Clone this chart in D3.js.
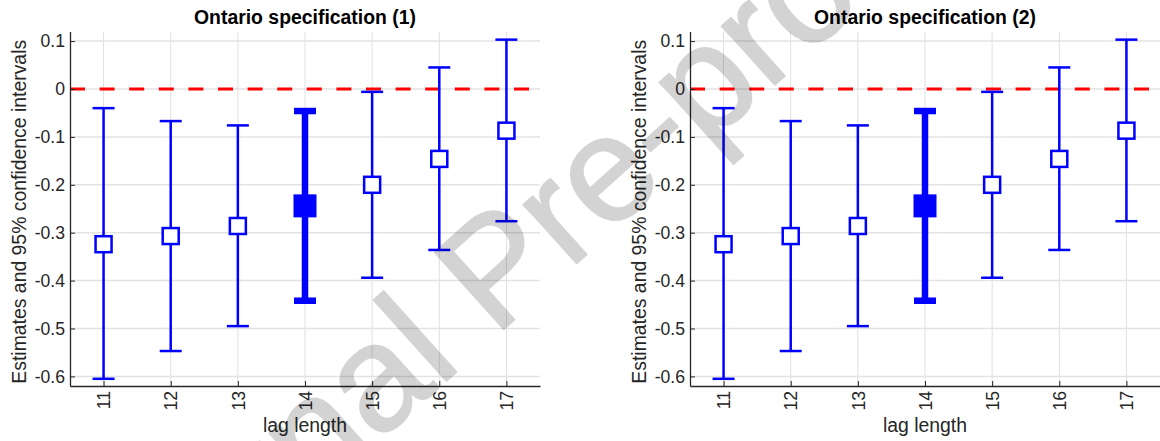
<!DOCTYPE html>
<html>
<head>
<meta charset="utf-8">
<script src="https://cdn.jsdelivr.net/npm/d3@7"></script>
<style>
  body { margin: 0; background: #fff; }
  svg { display: block; font-family: "Liberation Sans", Arial, sans-serif; }
</style>
</head>
<body>
<svg id="fig" width="1160" height="441"></svg>
<script>
// lag lengths on the x axis
var lags = [11, 12, 13, 14, 15, 16, 17];
var highlightLag = 14;

// Ontario specification (1)
var est1 = [-0.324, -0.307, -0.286, -0.244, -0.200, -0.146, -0.087];
var lo1  = [-0.605, -0.547, -0.495, -0.442, -0.394, -0.336, -0.276];
var hi1  = [-0.040, -0.067, -0.076, -0.046, -0.006,  0.045,  0.103];

// Ontario specification (2)
var est2 = [-0.324, -0.307, -0.286, -0.244, -0.200, -0.146, -0.087];
var lo2  = [-0.605, -0.547, -0.495, -0.442, -0.394, -0.336, -0.276];
var hi2  = [-0.040, -0.067, -0.076, -0.046, -0.006,  0.045,  0.103];

var yTicks = [0.1, 0, -0.1, -0.2, -0.3, -0.4, -0.5, -0.6];
var titles = ["Ontario specification (1)", "Ontario specification (2)"];

var axisColor = "#262626";
var blue = "#0000ff";

var fig = d3.select("#fig");

function drawPanel(fig, left, title, est, lo, hi) {
    var w = 470;
    var x = d3.scaleLinear().domain([10.5, 17.5]).range([left, left + w]);
    var y = d3.scaleLinear().domain([-0.62, 0.12]).range([386, 31.5]);

    var g = fig.append("g");

    //grid
    g.selectAll(".vgrid")
        .data(lags)
        .enter()
        .append("line")
        .attr("x1", function (d) { return x(d); })
        .attr("x2", function (d) { return x(d); })
        .attr("y1", y.range()[0])
        .attr("y2", y.range()[1])
        .attr("stroke", "#e0e0e0")
        .attr("stroke-width", 1);

    g.selectAll(".hgrid")
        .data(yTicks)
        .enter()
        .append("line")
        .attr("x1", x.range()[0])
        .attr("x2", x.range()[1])
        .attr("y1", function (d) { return y(d); })
        .attr("y2", function (d) { return y(d); })
        .attr("stroke", "#e3e3e3")
        .attr("stroke-width", 1.5);

    //zero line
    g.append("line")
        .attr("x1", x.range()[0])
        .attr("x2", x.range()[1])
        .attr("y1", y(0))
        .attr("y2", y(0))
        .attr("stroke", "#ff0000")
        .attr("stroke-width", 3.2)
        .attr("stroke-dasharray", "15,14.6");

    var rows = lags.map(function (l, i) {
        return { lag: l, est: est[i], lo: lo[i], hi: hi[i], big: l === highlightLag };
    });

    var bars = g.selectAll(".bar")
        .data(rows)
        .enter()
        .append("g");

    bars.append("line")
        .attr("x1", function (d) { return x(d.lag); })
        .attr("x2", function (d) { return x(d.lag); })
        .attr("y1", function (d) { return y(d.lo); })
        .attr("y2", function (d) { return y(d.hi); })
        .attr("stroke", blue)
        .attr("stroke-width", function (d) { return d.big ? 6.5 : 2.5; });

    ["lo", "hi"].forEach(function (k) {
        bars.append("line")
            .attr("x1", function (d) { return x(d.lag) - 11; })
            .attr("x2", function (d) { return x(d.lag) + 11; })
            .attr("y1", function (d) { return y(d[k]); })
            .attr("y2", function (d) { return y(d[k]); })
            .attr("stroke", blue)
            .attr("stroke-width", function (d) { return d.big ? 6.5 : 2.5; });
    });

    bars.append("rect")
        .attr("x", function (d) { return x(d.lag) - (d.big ? 8.5 : 8); })
        .attr("y", function (d) { return y(d.est) - (d.big ? 8.5 : 8); })
        .attr("width", function (d) { return d.big ? 17 : 16; })
        .attr("height", function (d) { return d.big ? 17 : 16; })
        .attr("fill", function (d) { return d.big ? blue : "#fff"; })
        .attr("stroke", blue)
        .attr("stroke-width", function (d) { return d.big ? 6 : 2.5; });

    //axes
    var yAxis = g.append("g")
        .attr("transform", "translate(" + left + ",0)")
        .call(d3.axisLeft(y)
            .tickValues(yTicks)
            .tickSize(-5)
            .tickSizeOuter(0)
            .tickPadding(5)
            .tickFormat(function (d) { return String(d); }));

    var xAxis = g.append("g")
        .attr("transform", "translate(0," + y.range()[0] + ")")
        .call(d3.axisBottom(x)
            .tickValues(lags)
            .tickSize(-5)
            .tickSizeOuter(0)
            .tickFormat(function (d) { return String(d); }));

    xAxis.selectAll("text")
        .attr("transform", "rotate(-90)")
        .attr("text-anchor", "end")
        .attr("x", -5)
        .attr("y", 0)
        .attr("dy", "0.35em");

    [xAxis, yAxis].forEach(function (a) {
        a.select(".domain").attr("stroke", axisColor).attr("stroke-width", 1.3);
        a.selectAll(".tick line").attr("stroke", axisColor);
        a.selectAll("text")
            .attr("fill", axisColor)
            .style("font-size", "17.6px")
            .style("font-family", "Liberation Sans, Arial, sans-serif");
    });

    //labels
    g.append("text")
        .text(title)
        .attr("x", left + w / 2)
        .attr("y", 24)
        .attr("text-anchor", "middle")
        .style("font-weight", "bold")
        .style("font-size", "19.4px")
        .attr("fill", "#000");

    g.append("text")
        .text("lag length")
        .attr("x", left + w / 2)
        .attr("y", 432)
        .attr("text-anchor", "middle")
        .style("font-size", "19.4px")
        .attr("fill", axisColor);

    g.append("text")
        .text("Estimates and 95% confidence intervals")
        .attr("transform", "translate(" + (left - 44) + "," + ((y.range()[0] + y.range()[1]) / 2 + 3) + ") rotate(-90)")
        .attr("text-anchor", "middle")
        .style("font-size", "19.4px")
        .attr("fill", axisColor);
}

drawPanel(fig, 70, titles[0], est1, lo1, hi1);
drawPanel(fig, 690, titles[1], est2, lo2, hi2);

// watermark (grey, see-through)
fig.append("g")
    .attr("opacity", 0.17)
    .style("pointer-events", "none")
    .append("text")
    .text("Journal Pre-proof")
    .attr("transform", "translate(494,268) rotate(-42)")
    .attr("text-anchor", "middle")
    .attr("dominant-baseline", "central")
    .style("font-size", "150px")
    .attr("fill", "#000")
    .attr("stroke", "#000")
    .attr("stroke-width", 2)
    .attr("stroke-linejoin", "round");
</script>
</body>
</html>
